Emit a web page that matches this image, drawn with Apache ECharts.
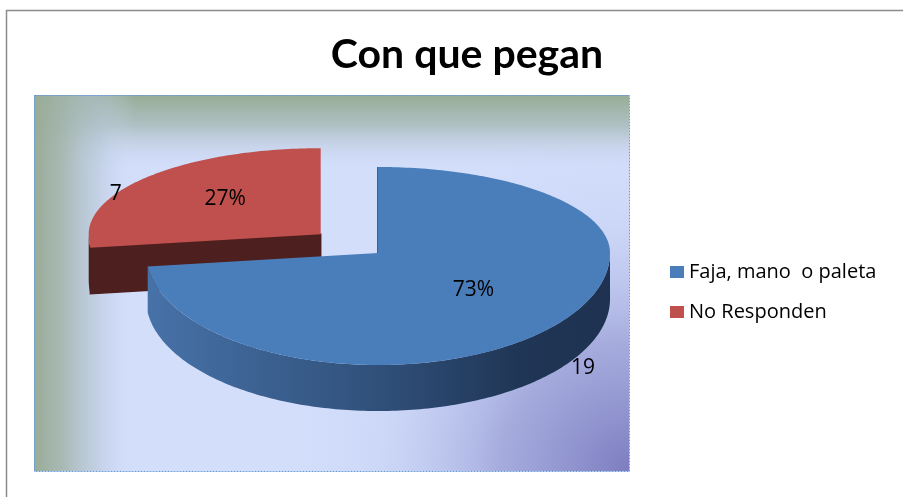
<!DOCTYPE html>
<html>
<head>
<meta charset="utf-8">
<script src="https://cdn.jsdelivr.net/npm/echarts@6/dist/echarts.min.js"></script>
<style>
  html, body { margin: 0; padding: 0; background: #fff; }
  #main { width: 903px; height: 497px; }
</style>
</head>
<body>
<div id="main"></div>
<script>
// Datos del gráfico
const categorias = ["Faja, mano  o paleta", "No Responden"];
const valores = [19, 7];
const explosion = [0, 0.33]; // fracción del radio que se separa cada porción

// Estilos
const coloresTapa = ["#4a7ebb", "#c0504d"];
const coloresLado = [
  new echarts.graphic.LinearGradient(0, 0, 1, 0, [
    { offset: 0, color: "#4772a8" },
    { offset: 0.5, color: "#30507a" },
    { offset: 0.8, color: "#203656" },
    { offset: 1, color: "#1e3150" },
  ]),
  "#4d1f1f",
];

// Geometría del pastel 3D
const CX = 378, CY = 253, RX = 232, RYT = 86, RYB = 112, DEPTH = 46;

const total = valores.reduce((a, b) => a + b, 0);
const inicios = valores.map((v, i) => valores.slice(0, i).reduce((a, b) => a + b, 0) / total * 360);

const rad = (d) => d * Math.PI / 180;

const renderPorcion = (i, api) => {
  const v = api.value(0);
  const a0 = inicios[i];
  const a1 = a0 + v / total * 360;
  const mid = (a0 + a1) / 2;
  const e = explosion[i];
  const cm = Math.cos(rad(mid));
  const ox = e * RX * Math.sin(rad(mid));
  const oy = -e * (cm > 0 ? RYT : RYB) * cm;

  const pt = (a, r, dy) => {
    const c = Math.cos(rad(a));
    return [CX + ox + r * RX * Math.sin(rad(a)), CY + oy - r * (c > 0 ? RYT : RYB) * c + (dy || 0)];
  };
  const arco = (from, to, dy) => {
    const pts = [];
    const n = Math.max(2, Math.ceil(Math.abs(to - from)));
    for (let k = 0; k <= n; k++) pts.push(pt(from + (to - from) * k / n, 1, dy));
    return pts;
  };

  const hijos = [];
  const vert = pt(0, 0);
  const cara = (a) => ({
    type: "polygon",
    shape: { points: [vert, pt(a, 1), pt(a, 1, DEPTH), pt(0, 0, DEPTH)] },
    style: { fill: i === 0 ? "#1f3352" : coloresLado[i], stroke: i === 0 ? "#1f3352" : coloresLado[i], lineWidth: 1.5 },
  });
  // caras radiales visibles
  if (Math.cos(rad(a0 - 90)) <= 1e-6) hijos.push(cara(a0));
  if (Math.cos(rad(a1 + 90)) < -1e-6) hijos.push(cara(a1));

  // pared exterior (mitad frontal)
  const lo = Math.max(a0, 90), hi = Math.min(a1, 270);
  if (hi > lo) {
    const pts = arco(lo, hi).concat(arco(hi, lo, DEPTH));
    hijos.push({ type: "polygon", shape: { points: pts }, style: { fill: coloresLado[i] } });
  }

  // tapa superior
  hijos.push({
    type: "polygon",
    shape: { points: [vert].concat(arco(a0, a1)) },
    style: { fill: coloresTapa[i] },
  });

  // etiquetas: porcentaje y valor
  const pos = pt(mid, 0.55, -4);
  const fuera = pt(mid, 1.18, DEPTH * 0.6);
  const fuente = '21px "Open Sans", sans-serif';
  hijos.push({
    type: "text",
    style: { text: Math.round(v / total * 100) + "%", x: pos[0], y: pos[1], fill: "#000", font: fuente, align: "center", verticalAlign: "middle" },
  });
  hijos.push({
    type: "text",
    style: { text: String(v), x: fuera[0], y: fuera[1], fill: "#000", font: fuente, align: "center", verticalAlign: "middle" },
  });

  return { type: "group", children: hijos };
};

const chart = echarts.init(document.getElementById("main"));

const PX = 34, PY = 95, PW = 595, PH = 376;

const option = {
  animation: false,
  title: {
    text: "Con que pegan",
    left: 462,
    textAlign: "center",
    top: 29,
    textStyle: { fontFamily: "Lato", fontWeight: "bold", fontSize: 41, color: "#000" },
  },
  legend: {
    orient: "vertical",
    left: 670,
    top: 262,
    padding: 0,
    itemWidth: 14,
    itemHeight: 12,
    itemGap: 20,
    icon: "rect",
    data: categorias,
    textStyle: { fontFamily: "Open Sans", fontSize: 20, color: "#000", lineHeight: 20 },
  },
  graphic: [
    { type: "rect", shape: { x: 6.5, y: 10.5, width: 1000, height: 600 }, style: { fill: "#fff", stroke: "#8c8c8c", lineWidth: 1.5 }, z: -10 },
    { type: "rect", shape: { x: PX, y: PY, width: PW, height: PH }, style: { fill: "#d3defb" }, z: -9 },
    {
      type: "rect", shape: { x: PX, y: PY, width: PW, height: PH }, z: -8,
      style: {
        fill: new echarts.graphic.RadialGradient(1, 1, 0.95, [
          { offset: 0, color: "rgba(125,125,192,1)" },
          { offset: 0.35, color: "rgba(148,153,210,0.75)" },
          { offset: 0.7, color: "rgba(190,200,240,0.3)" },
          { offset: 1, color: "rgba(211,222,251,0)" },
        ]),
      },
    },
    {
      type: "rect", shape: { x: PX, y: PY, width: PW, height: PH }, z: -7,
      style: {
        fill: new echarts.graphic.LinearGradient(0, 0, 0, 1, [
          { offset: 0, color: "rgba(150,172,148,1)" },
          { offset: 0.08, color: "rgba(165,184,180,0.8)" },
          { offset: 0.2, color: "rgba(205,216,245,0)" },
          { offset: 1, color: "rgba(205,216,245,0)" },
        ]),
      },
    },
    {
      type: "rect", shape: { x: PX, y: PY, width: PW, height: PH }, z: -6,
      style: {
        fill: new echarts.graphic.LinearGradient(0, 0, 1, 0, [
          { offset: 0, color: "rgba(152,172,150,1)" },
          { offset: 0.05, color: "rgba(162,180,170,0.85)" },
          { offset: 0.11, color: "rgba(180,196,210,0.5)" },
          { offset: 0.17, color: "rgba(210,220,248,0)" },
          { offset: 1, color: "rgba(210,220,248,0)" },
        ]),
      },
    },
    { type: "rect", shape: { x: PX + 0.5, y: PY + 0.5, width: PW, height: PH }, z: -5, style: { fill: "none", stroke: "#6a9bd8", lineWidth: 1, lineDash: [2, 1] } },
  ],
  series: categorias.map((nombre, i) => ({
    type: "custom",
    name: nombre,
    coordinateSystem: "none",
    z: i === 0 ? 3 : 2,
    itemStyle: { color: coloresTapa[i] },
    data: [valores[i]],
    renderItem: (params, api) => renderPorcion(i, api),
  })),
};

chart.setOption(option);
</script>
</body>
</html>
